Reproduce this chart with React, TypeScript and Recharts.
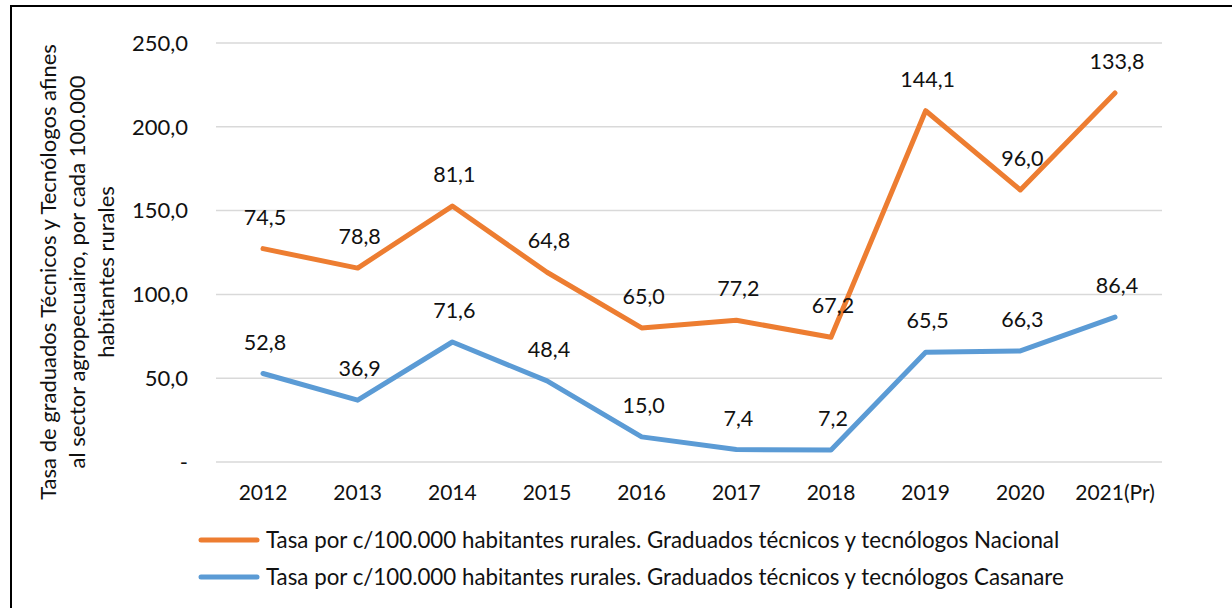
import React from 'react';
import { ComposedChart, Area, XAxis, YAxis, CartesianGrid, Legend, LabelList } from 'recharts';

// Chart values (Excel stacked line: Casanare at the bottom, Nacional stacked on top)
const categories = ['2012', '2013', '2014', '2015', '2016', '2017', '2018', '2019', '2020', '2021(Pr)'];
const nacional = [74.5, 78.8, 81.1, 64.8, 65.0, 77.2, 67.2, 144.1, 96.0, 133.8];
const casanare = [52.8, 36.9, 71.6, 48.4, 15.0, 7.4, 7.2, 65.5, 66.3, 86.4];
const yTicks = [0, 50, 100, 150, 200, 250];

const yTitleLines = [
  'Tasa de graduados Técnicos y Tecnólogos afines',
  'al sector agropecuairo, por cada 100.000',
  'habitantes rurales',
];
const nameNacional = 'Tasa por c/100.000 habitantes rurales. Graduados técnicos y tecnólogos Nacional';
const nameCasanare = 'Tasa por c/100.000 habitantes rurales. Graduados técnicos y tecnólogos Casanare';

const ORANGE = '#ED7D31';
const BLUE = '#5B9BD5';
const FONT = 'Lato, "Noto Sans", sans-serif';
const TEXT = '#111';

const data = categories.map((year, i) => ({
  year,
  casanare: casanare[i],
  nacional: nacional[i],
}));

const fmt = (v: number) => (v === 0 ? '-' : v.toFixed(1).replace('.', ','));

// data label above each point, showing the series' own value
const makeLabel = (values: number[]) => (props: any) => {
  const { x, y, index } = props;
  if (x == null || y == null) return null;
  return (
    <text x={x + 2} y={y - 24} textAnchor="middle" fontSize={21.5} fontFamily={FONT} fill={TEXT}>
      {fmt(values[index])}
    </text>
  );
};

const renderYTitle = () => (
  <g>
    {yTitleLines.map((line, i) => (
      <text
        key={i}
        transform={`translate(${56 + i * 29}, 272) rotate(-90)`}
        textAnchor="middle"
        fontSize={22}
        fontFamily={FONT}
        fill={TEXT}
      >
        {line}
      </text>
    ))}
  </g>
);

const renderLegend = () => {
  const items = [
    { name: nameNacional, color: ORANGE },
    { name: nameCasanare, color: BLUE },
  ];
  return (
    <svg width={900} height={74}>
      {items.map((it, i) => {
        const cy = 15 + i * 37;
        return (
          <g key={it.name}>
            <line x1={3} x2={59} y1={cy} y2={cy} stroke={it.color} strokeWidth={5} strokeLinecap="round" />
            <text x={68} y={cy + 8} fontSize={22.3} fontFamily={FONT} fill={TEXT}>
              {it.name}
            </text>
          </g>
        );
      })}
    </svg>
  );
};

const App: React.FC = () => {
  return (
    <div style={{ position: 'relative', width: 1232, height: 608, overflow: 'hidden', background: '#fff' }}>
      <style>{'body{margin:0}'}</style>
      <div
        style={{
          position: 'absolute',
          left: 10,
          top: 5,
          width: 1300,
          height: 700,
          border: '2px solid #000',
        }}
      />
      <div style={{ position: 'absolute', left: 0, top: 0 }}>
        <ComposedChart
          width={1232}
          height={608}
          data={data}
          margin={{ top: 43, right: 70, left: 136, bottom: 116 }}
        >
          <CartesianGrid vertical={false} stroke="#d9d9d9" strokeWidth={1.5} />
          <XAxis
            dataKey="year"
            height={30}
            padding={{ left: 47, right: 47 }}
            axisLine={false}
            tickLine={false}
            tickSize={0}
            tickMargin={23}
            interval={0}
            tick={{ fill: TEXT, fontSize: 21, fontFamily: FONT }}
          />
          <YAxis
            type="number"
            domain={[0, 250]}
            ticks={yTicks}
            width={80}
            axisLine={false}
            tickLine={false}
            tickSize={0}
            tickMargin={28}
            tickFormatter={fmt}
            tick={{ fill: TEXT, fontSize: 22, fontFamily: FONT }}
            label={{ content: renderYTitle }}
          />
          <Legend
            layout="vertical"
            align="center"
            verticalAlign="middle"
            content={renderLegend}
            wrapperStyle={{ left: 198, top: 525, width: 900 }}
          />
          <Area
            type="linear"
            dataKey="casanare"
            name={nameCasanare}
            stackId="a"
            stroke={BLUE}
            strokeWidth={5}
            strokeLinejoin="round"
            strokeLinecap="round"
            fill="none"
            dot={false}
            activeDot={false}
            isAnimationActive={false}
          >
            <LabelList dataKey="casanare" content={makeLabel(casanare)} />
          </Area>
          <Area
            type="linear"
            dataKey="nacional"
            name={nameNacional}
            stackId="a"
            stroke={ORANGE}
            strokeWidth={5}
            strokeLinejoin="round"
            strokeLinecap="round"
            fill="none"
            dot={false}
            activeDot={false}
            isAnimationActive={false}
          >
            <LabelList dataKey="nacional" content={makeLabel(nacional)} />
          </Area>
        </ComposedChart>
      </div>
    </div>
  );
};

export default App;
